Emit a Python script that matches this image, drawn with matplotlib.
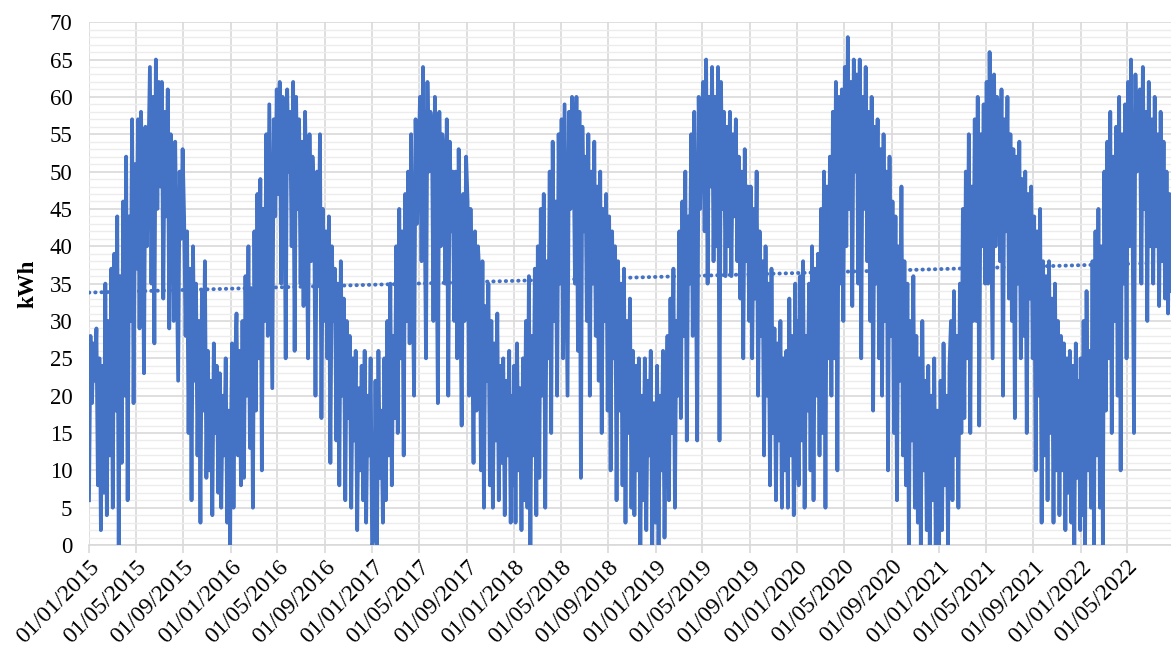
import matplotlib
matplotlib.use("Agg")
import matplotlib.pyplot as plt
import matplotlib.dates as mdates
from matplotlib.ticker import MultipleLocator
import pandas as pd

plt.rcParams['font.family'] = ['Liberation Serif', 'DejaVu Serif']

# daily energy at roughly 4-day steps (8 values per month)
kwh_2015 = [6, 28, 19, 27, 22, 29, 8, 25,
            2, 24, 7, 35, 4, 30, 12, 37,
            5, 39, 18, 44, 0, 36, 11, 46,
            20, 52, 6, 44, 30, 57, 19, 51,
            37, 57, 29, 58, 47, 23, 56, 40,
            52, 64, 35, 60, 27, 65, 45, 62,
            48, 62, 33, 58, 44, 61, 29, 55,
            52, 30, 54, 38, 22, 50, 41, 53,
            44, 28, 42, 15, 37, 6, 40, 22,
            35, 12, 30, 3, 34, 18, 38, 9,
            26, 10, 22, 4, 27, 15, 24, 7,
            23, 5, 20, 12, 25, 3, 18, 0]
kwh_2016 = [10, 27, 5, 24, 31, 12, 26, 8,
            30, 9, 36, 20, 40, 13, 34, 5,
            42, 18, 47, 25, 49, 10, 45, 30,
            55, 28, 59, 40, 21, 57, 44, 61,
            47, 62, 35, 60, 55, 25, 61, 50,
            58, 40, 62, 26, 60, 45, 57, 35,
            54, 32, 58, 45, 25, 55, 38, 52,
            47, 20, 50, 35, 55, 17, 45, 30,
            42, 25, 44, 11, 40, 30, 37, 14,
            35, 8, 38, 20, 33, 6, 30, 17,
            28, 5, 25, 14, 26, 2, 21, 10,
            24, 6, 26, 3, 20, 12, 25, 0]
kwh_2017 = [0, 1, 22, 0, 26, 9, 18, 3,
            25, 6, 30, 12, 35, 8, 28, 17,
            40, 15, 45, 25, 42, 12, 47, 30,
            50, 27, 55, 35, 20, 57, 43, 52,
            60, 38, 64, 48, 25, 62, 50, 58,
            56, 30, 60, 45, 19, 58, 40, 55,
            52, 35, 57, 20, 54, 42, 50, 30,
            50, 25, 53, 37, 16, 47, 30, 52,
            46, 20, 45, 30, 11, 42, 18, 40,
            36, 10, 38, 5, 32, 22, 35, 8,
            30, 5, 27, 14, 31, 6, 24, 11,
            25, 4, 22, 12, 26, 3, 20, 8]
kwh_2018 = [24, 3, 27, 10, 21, 2, 25, 6,
            30, 5, 36, 0, 28, 12, 37, 4,
            40, 9, 45, 20, 47, 5, 38, 25,
            50, 15, 54, 30, 46, 20, 55, 35,
            57, 25, 59, 40, 20, 58, 45, 60,
            55, 35, 60, 26, 58, 9, 56, 42,
            52, 30, 55, 20, 50, 35, 54, 28,
            48, 22, 50, 15, 45, 30, 47, 18,
            44, 10, 42, 25, 40, 6, 38, 18,
            35, 8, 37, 3, 30, 15, 33, 5,
            26, 4, 24, 10, 25, 0, 20, 6,
            25, 2, 22, 12, 26, 0, 19, 5]
kwh_2019 = [3, 24, 0, 20, 10, 26, 1, 18,
            28, 6, 33, 15, 37, 5, 30, 20,
            42, 17, 46, 28, 50, 14, 44, 35,
            55, 28, 58, 40, 14, 60, 45, 56,
            62, 42, 65, 35, 60, 48, 64, 38,
            60, 40, 64, 14, 62, 45, 58, 36,
            56, 40, 58, 36, 55, 44, 57, 38,
            52, 33, 50, 25, 53, 38, 48, 30,
            48, 25, 45, 33, 50, 20, 42, 28,
            38, 12, 40, 20, 35, 8, 37, 15,
            29, 6, 27, 14, 30, 5, 25, 10,
            26, 5, 33, 12, 28, 4, 35, 9]
kwh_2020 = [30, 8, 36, 14, 38, 5, 28, 18,
            35, 10, 40, 6, 37, 20, 39, 12,
            45, 15, 50, 5, 48, 25, 52, 20,
            58, 25, 62, 10, 60, 35, 61, 30,
            64, 40, 68, 45, 62, 32, 65, 50,
            63, 35, 65, 25, 60, 45, 64, 38,
            58, 30, 60, 18, 56, 35, 57, 25,
            53, 20, 55, 30, 50, 10, 52, 28,
            46, 15, 44, 6, 40, 22, 48, 12,
            38, 8, 35, 0, 30, 14, 36, 5,
            28, 3, 25, 0, 30, 10, 22, 2,
            24, 0, 20, 6, 25, 0, 18, 3]
kwh_2021 = [0, 22, 2, 27, 8, 20, 0, 24,
            30, 6, 34, 12, 28, 5, 35, 15,
            45, 17, 50, 25, 55, 15, 48, 30,
            57, 30, 60, 16, 55, 40, 59, 35,
            62, 35, 66, 45, 25, 63, 40, 60,
            58, 38, 61, 20, 57, 42, 60, 33,
            55, 30, 53, 17, 52, 35, 54, 25,
            49, 28, 50, 15, 47, 33, 48, 25,
            44, 10, 42, 20, 45, 3, 38, 12,
            36, 6, 38, 15, 33, 3, 35, 10,
            30, 4, 28, 10, 27, 2, 25, 7,
            26, 3, 24, 0, 27, 9, 22, 2]
kwh_2022 = [25, 4, 30, 0, 34, 10, 26, 5,
            38, 0, 42, 12, 45, 5, 40, 0,
            50, 18, 54, 25, 58, 15, 52, 30,
            56, 20, 60, 10, 55, 35, 59, 25,
            62, 40, 65, 45, 15, 63, 50, 60,
            61, 35, 64, 45, 58, 30, 62, 40,
            57, 35, 60, 40, 55, 32, 58, 38,
            54, 33, 50, 31, 47, 34]

years = [2015, 2016, 2017, 2018, 2019, 2020, 2021, 2022]
series = [kwh_2015, kwh_2016, kwh_2017, kwh_2018,
          kwh_2019, kwh_2020, kwh_2021, kwh_2022]

# linear trend
trend_values = [33.8, 37.8]

first_day = '2015-01-01'
last_day = '2022-08-22'

dates = []
values = []
for year, vals in zip(years, series):
    end = last_day if year == 2022 else f'{year}-12-31'
    dates.extend(pd.date_range(f'{year}-01-01', end, periods=len(vals)))
    values.extend(vals)

blue = '#4472C4'

fig = plt.figure(figsize=(11.71, 6.52), dpi=100)
ax = fig.add_axes([0.076, 0.164, 0.924, 0.802])

ax.plot(dates, values, color=blue, lw=2.7, zorder=3)
ax.plot(pd.to_datetime([first_day, last_day]), trend_values, color=blue,
        lw=2.8, linestyle=(0, (0.1, 1.5)), dash_capstyle='round', zorder=4)

ax.set_xlim(pd.Timestamp(first_day), pd.Timestamp(last_day))
ax.set_ylim(0, 70)

# grid
ax.yaxis.set_major_locator(MultipleLocator(5))
ax.yaxis.set_minor_locator(MultipleLocator(1))
ax.xaxis.set_major_locator(mdates.MonthLocator(bymonth=[1, 5, 9], bymonthday=1))
ax.xaxis.set_major_formatter(mdates.DateFormatter('%d/%m/%Y'))
ax.grid(which='major', axis='both', color='#d9d9d9', lw=1.2, zorder=0)
ax.grid(which='minor', axis='y', color='#ececec', lw=1.0, zorder=0)
ax.set_axisbelow(True)

for side in ['top', 'right', 'left']:
    ax.spines[side].set_visible(False)
ax.spines['bottom'].set_color('#d9d9d9')
ax.spines['bottom'].set_linewidth(1.2)

ax.tick_params(axis='y', which='both', length=0, pad=12, labelsize=16.5)
ax.tick_params(axis='x', which='major', length=6, color='#d9d9d9', width=1.2,
               labelsize=17, pad=2)
for lab in ax.get_xticklabels():
    lab.set_rotation(45)
    lab.set_ha('right')
    lab.set_rotation_mode('anchor')

ax.set_ylabel('kWh', fontsize=16.5, fontweight='bold', labelpad=8)

fig.savefig('out.png', dpi=100)
